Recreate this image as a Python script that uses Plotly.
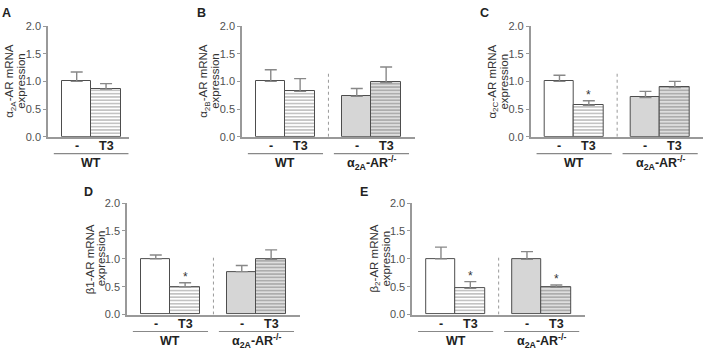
import plotly.graph_objects as go

W, H = 708, 356

# ---------------- data ----------------
treatments = ["-", "T3"]
genotypes = ["WT", "α<sub>2A</sub>-AR<sup>-/-</sup>"]
panel_letters = ["A", "B", "C", "D", "E"]
ytitles = ["α<sub>2A</sub>-AR mRNA", "α<sub>2B</sub>-AR mRNA", "α<sub>2C</sub>-AR mRNA",
           "β1-AR mRNA", "β<sub>2</sub>-AR mRNA"]
ytitle_line2 = "expression"
yticks = [0.0, 0.5, 1.0, 1.5, 2.0]

A_means = [1.00, 0.86]
A_err = [0.17, 0.10]
B_means = [1.00, 0.82, 0.73, 0.98]
B_err = [0.21, 0.23, 0.14, 0.28]
C_means = [1.00, 0.57, 0.71, 0.89]
C_err = [0.11, 0.08, 0.11, 0.11]
D_means = [1.00, 0.50, 0.77, 0.99]
D_err = [0.07, 0.07, 0.11, 0.17]
E_means = [1.00, 0.47, 0.99, 0.49]
E_err = [0.21, 0.12, 0.14, 0.04]
A_sig = [False, False]
B_sig = [False, False, False, False]
C_sig = [False, True, False, False]
D_sig = [False, True, False, False]
E_sig = [False, True, False, True]

means = [A_means, B_means, C_means, D_means, E_means]
errs = [A_err, B_err, C_err, D_err, E_err]
sigs = [A_sig, B_sig, C_sig, D_sig, E_sig]

# ---------------- layout geometry (pixels) ----------------
# (axis_left_px, axis_right_px, top_px(y=2), bottom_px(y=0), letter_x, letter_y)
geom = [
    (48.0, 128.5, 20.7, 135.3, 6, 7),
    (242.0, 414.6, 20.7, 135.3, 201, 7),
    (530.7, 703.3, 20.7, 135.3, 484, 7),
    (127.0, 299.6, 204.0, 319.3, 88, 193),
    (412.2, 584.8, 204.0, 319.3, 364, 193),
]

FONT = "Liberation Sans, Arial, sans-serif"


def fx(px):
    return px / W


def fy(py):
    return 1 - py / H


fig = go.Figure()
shapes = []
annotations = []

AX = "#999999"
TXT = "#333333"

for i in range(5):
    n = len(means[i])
    k = "" if i == 0 else str(i + 1)
    xa, ya = "x" + k, "y" + k
    left, right, top, bot, lx, ly = geom[i]
    if n == 2:
        pos = [1, 2]
        xr = [0.022, 2.765]
        fills = ["white", "white"]
        pat = ["", "-"]
        pbg = ["white", "white"]
    else:
        pos = [1, 2, 3.93, 4.93]
        xr = [0.02, 5.9]
        fills = ["white", "white", "#d6d6d6", "#dedede"]
        pat = ["", "-", "", "-"]
        pbg = ["white", "white", "#d6d6d6", "#e2e2e2"]

    fig.add_trace(go.Bar(
        x=pos, y=means[i], width=1, xaxis=xa, yaxis=ya,
        marker=dict(color=fills, line=dict(color="#4d4d4d", width=1),
                    pattern=dict(shape=pat, fgcolor="#6a6a6a", bgcolor=pbg,
                                 size=3.3, solidity=0.32)),
        error_y=dict(type="data", array=errs[i], arrayminus=[0] * n,
                     symmetric=False, color="#888888", thickness=1.4, width=6),
        showlegend=False, hoverinfo="skip"))

    fig.layout["xaxis" + k] = dict(
        domain=[fx(left), fx(right)], range=xr, anchor=ya,
        showline=True, linecolor=AX, linewidth=1.6, showgrid=False, zeroline=False,
        showticklabels=False, ticks="", fixedrange=True)
    fig.layout["yaxis" + k] = dict(
        domain=[fy(bot), fy(top)], range=[0, 2], anchor=xa,
        showline=True, linecolor=AX, linewidth=1.6, showgrid=False, zeroline=False,
        tickvals=yticks, tickformat=".1f", ticks="outside", ticklen=3, tickcolor=AX,
        tickwidth=1.2,
        tickfont=dict(family=FONT, size=11, color="#505050"),
        fixedrange=True)

    # treatment labels under each bar
    for j in range(n):
        annotations.append(dict(text="<b>%s</b>" % treatments[j % 2], x=pos[j], y=fy(bot + 10),
                                xref=xa, yref="paper", showarrow=False,
                                xanchor="center", yanchor="middle",
                                font=dict(family=FONT, size=12.5, color="#222")))

    # y-axis titles (two lines)
    mid = fy((top + bot) / 2)
    annotations.append(dict(text=ytitles[i], x=fx(left - 37.5), y=mid, xref="paper", yref="paper",
                            textangle=-90, showarrow=False, xanchor="center", yanchor="middle",
                            font=dict(family=FONT, size=11.5, color=TXT)))
    annotations.append(dict(text=ytitle_line2, x=fx(left - 26.5), y=mid, xref="paper", yref="paper",
                            textangle=-90, showarrow=False, xanchor="center", yanchor="middle",
                            font=dict(family=FONT, size=11.5, color=TXT)))
    # panel letter
    annotations.append(dict(text="<b>%s</b>" % panel_letters[i], x=fx(lx), y=fy(ly),
                            xref="paper", yref="paper", showarrow=False,
                            xanchor="center", yanchor="middle",
                            font=dict(family=FONT, size=12.5, color="#222")))
    # group underlines and labels
    ngroups = n // 2
    for g in range(ngroups):
        c = (pos[2 * g] + pos[2 * g + 1]) / 2
        shapes.append(dict(type="line", xref=xa, yref="paper",
                           x0=c - 1.28, x1=c + 1.28, y0=fy(bot + 17.5), y1=fy(bot + 17.5),
                           line=dict(color="#888888", width=1.1)))
        annotations.append(dict(text="<b>%s</b>" % genotypes[g], x=c, y=fy(bot + 27),
                                xref=xa, yref="paper", showarrow=False,
                                xanchor="center", yanchor="middle",
                                font=dict(family=FONT, size=12.5, color="#222")))
    if n == 4:
        sep_top = 1.17 if top < 100 else 1.02
        shapes.append(dict(type="line", xref=xa, yref=ya, x0=2.965, x1=2.965, y0=0, y1=sep_top,
                           line=dict(color="#999", width=1, dash="dot")))
    # significance asterisks
    for j in range(n):
        if sigs[i][j]:
            annotations.append(dict(text="*", x=pos[j], y=means[i][j] + errs[i][j],
                                    xref=xa, yref=ya, showarrow=False, yshift=6,
                                    xanchor="center", yanchor="middle",
                                    font=dict(family=FONT, size=12, color=TXT)))

fig.update_layout(
    width=W, height=H, margin=dict(l=0, r=0, t=0, b=0),
    paper_bgcolor="white", plot_bgcolor="white",
    shapes=shapes, annotations=annotations, bargap=0,
)

fig.write_html("out.html", config={"displayModeBar": False},
               post_script="document.body.style.margin='0px';document.body.style.padding='0px';")
